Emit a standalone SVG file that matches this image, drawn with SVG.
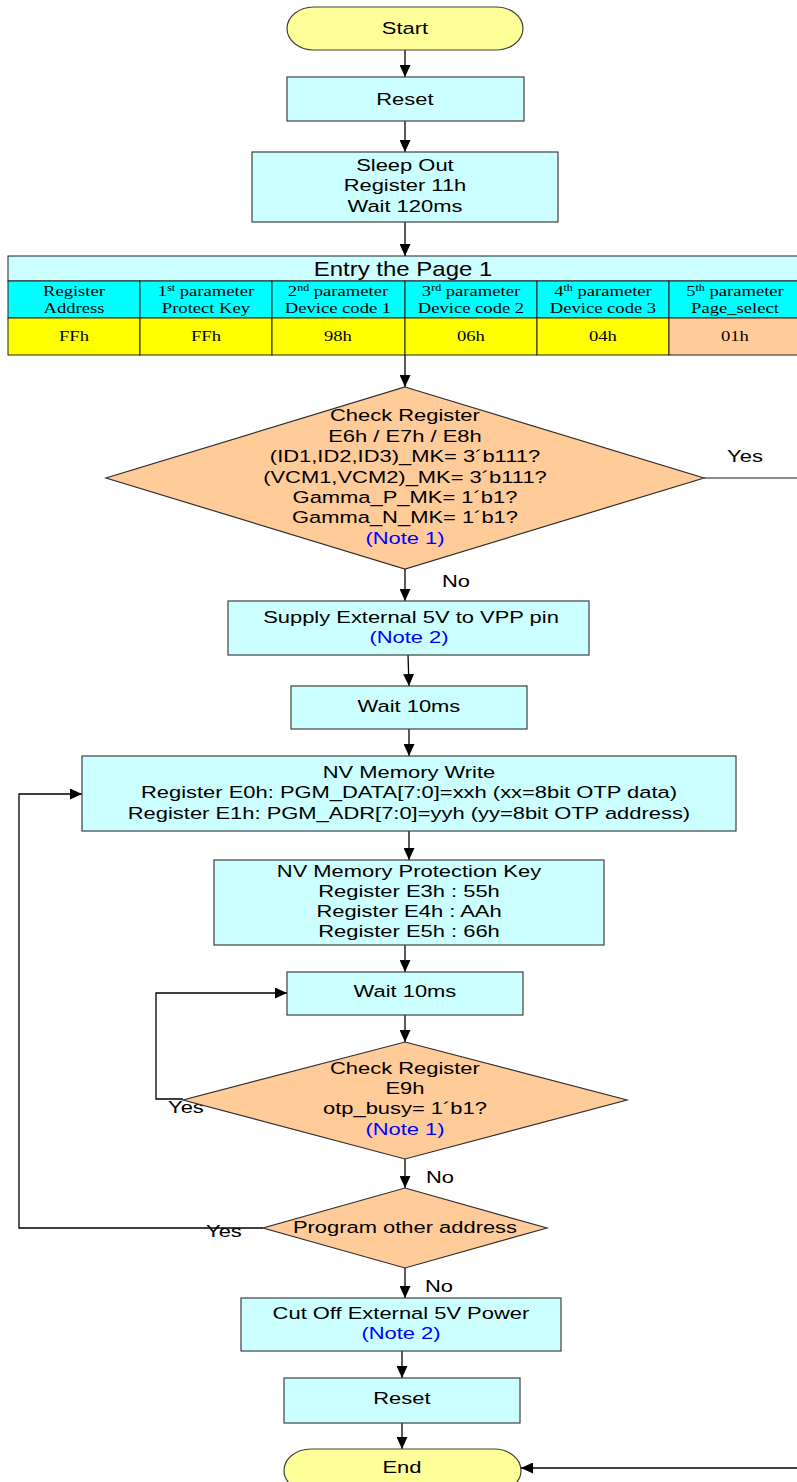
<svg xmlns="http://www.w3.org/2000/svg" width="797" height="1482" viewBox="0 0 797 1482">
<style>
  .box { fill: #CCFFFF; stroke: #404040; stroke-width: 1.2; }
  .term { fill: #FFFF99; stroke: #404040; stroke-width: 1.2; }
  .dia { fill: #FFCC99; stroke: #303030; stroke-width: 1.2; }
  .cell { stroke: #202020; stroke-width: 1; }
  .t { font-family: "Liberation Sans", Arial, sans-serif; font-size: 17px; fill: #000; text-anchor: middle;
       transform-box: fill-box; transform-origin: center; transform: scaleX(1.29); }
  .note { fill: #0000FF; }
  .tt { font-family: "Liberation Sans", Arial, sans-serif; font-size: 20px; fill: #000; text-anchor: middle;
       transform-box: fill-box; transform-origin: center; transform: scaleX(1.2); }
  .tm { font-family: "Liberation Serif", "Times New Roman", serif; font-size: 15.5px; fill: #000; text-anchor: middle;
       transform-box: fill-box; transform-origin: center; transform: scaleX(1.2); }
  .sup { font-size: 10px; }
  .c { fill: none; stroke: #000; stroke-width: 1.3; }
  .cg { fill: none; stroke: #666; stroke-width: 1.3; }
</style>
<defs>
  <marker id="ah" markerUnits="userSpaceOnUse" markerWidth="12" markerHeight="11" refX="12" refY="5.5" orient="auto">
    <path d="M0,0 L12,5.5 L0,11 z" fill="#000"/>
  </marker>
</defs>

<g id="connectors">
  <line class="c" x1="405" y1="50" x2="405" y2="77" marker-end="url(#ah)"/>
  <line class="c" x1="405" y1="121" x2="405" y2="152" marker-end="url(#ah)"/>
  <line class="c" x1="405" y1="222" x2="405" y2="256" marker-end="url(#ah)"/>
  <line class="c" x1="405" y1="355" x2="405" y2="387" marker-end="url(#ah)"/>
  <line class="c" x1="405" y1="569" x2="405" y2="601" marker-end="url(#ah)"/>
  <line class="c" x1="408" y1="655" x2="409" y2="686" marker-end="url(#ah)"/>
  <line class="c" x1="409" y1="729" x2="409" y2="756" marker-end="url(#ah)"/>
  <line class="c" x1="409" y1="831" x2="409" y2="860" marker-end="url(#ah)"/>
  <line class="c" x1="405" y1="945" x2="405" y2="972" marker-end="url(#ah)"/>
  <line class="c" x1="405" y1="1015" x2="405" y2="1042" marker-end="url(#ah)"/>
  <line class="c" x1="405" y1="1159" x2="405" y2="1188" marker-end="url(#ah)"/>
  <line class="c" x1="405" y1="1268" x2="405" y2="1298" marker-end="url(#ah)"/>
  <line class="c" x1="402" y1="1351" x2="402" y2="1378" marker-end="url(#ah)"/>
  <line class="c" x1="402" y1="1423" x2="402" y2="1449" marker-end="url(#ah)"/>
  <polyline class="c" points="183,1099 156,1099 156,993 287,993" marker-end="url(#ah)"/>
  <polyline class="c" points="263,1228 19,1228 19,794 82,794" marker-end="url(#ah)"/>
  <line class="cg" x1="704" y1="478" x2="797" y2="478"/>
  <line class="c" x1="797" y1="1468" x2="521" y2="1468" marker-end="url(#ah)"/>
  <text class="t" x="745" y="462">Yes</text>
  <text class="t" x="456" y="587">No</text>
  <text class="t" x="186" y="1113">Yes</text>
  <text class="t" x="440" y="1183">No</text>
  <text class="t" x="224" y="1237">Yes</text>
  <text class="t" x="439" y="1292">No</text>
</g>

<g id="start">
  <rect class="term" x="287" y="7" width="236" height="43" rx="27" ry="21.5"/>
  <text class="t" x="405" y="34">Start</text>
</g>

<g id="reset1">
  <rect class="box" x="287" y="77" width="237" height="44"/>
  <text class="t" x="405" y="105">Reset</text>
</g>

<g id="sleep-out">
  <rect class="box" x="252" y="152" width="306" height="70"/>
  <text class="t" x="405" y="171">Sleep Out</text>
  <text class="t" x="405" y="191.5">Register 11h</text>
  <text class="t" x="405" y="212">Wait 120ms</text>
</g>

<g id="page1-table">
  <rect class="cell" x="8" y="256" width="793" height="25" fill="#CCFFFF"/>
  <rect class="cell" x="8" y="281" width="132" height="37" fill="#00FFFF"/>
  <rect class="cell" x="140" y="281" width="132" height="37" fill="#00FFFF"/>
  <rect class="cell" x="272" y="281" width="133" height="37" fill="#00FFFF"/>
  <rect class="cell" x="405" y="281" width="132" height="37" fill="#00FFFF"/>
  <rect class="cell" x="537" y="281" width="132" height="37" fill="#00FFFF"/>
  <rect class="cell" x="669" y="281" width="132" height="37" fill="#00FFFF"/>
  <rect class="cell" x="8" y="318" width="132" height="37" fill="#FFFF00"/>
  <rect class="cell" x="140" y="318" width="132" height="37" fill="#FFFF00"/>
  <rect class="cell" x="272" y="318" width="133" height="37" fill="#FFFF00"/>
  <rect class="cell" x="405" y="318" width="132" height="37" fill="#FFFF00"/>
  <rect class="cell" x="537" y="318" width="132" height="37" fill="#FFFF00"/>
  <rect class="cell" x="669" y="318" width="132" height="37" fill="#FFCC99"/>
  <text class="tt" x="403" y="276">Entry the Page 1</text>
  <text class="tm" x="74" y="296">Register</text>
  <text class="tm" x="74" y="313">Address</text>
  <text class="tm" x="206" y="296">1<tspan class="sup" dy="-5">st</tspan><tspan dy="5"> parameter</tspan></text>
  <text class="tm" x="206" y="313">Protect Key</text>
  <text class="tm" x="338" y="296">2<tspan class="sup" dy="-5">nd</tspan><tspan dy="5"> parameter</tspan></text>
  <text class="tm" x="338" y="313">Device code 1</text>
  <text class="tm" x="471" y="296">3<tspan class="sup" dy="-5">rd</tspan><tspan dy="5"> parameter</tspan></text>
  <text class="tm" x="471" y="313">Device code 2</text>
  <text class="tm" x="603" y="296">4<tspan class="sup" dy="-5">th</tspan><tspan dy="5"> parameter</tspan></text>
  <text class="tm" x="603" y="313">Device code 3</text>
  <text class="tm" x="735" y="296">5<tspan class="sup" dy="-5">th</tspan><tspan dy="5"> parameter</tspan></text>
  <text class="tm" x="735" y="313">Page_select</text>
  <text class="tm" x="74" y="341">FFh</text>
  <text class="tm" x="206" y="341">FFh</text>
  <text class="tm" x="338" y="341">98h</text>
  <text class="tm" x="471" y="341">06h</text>
  <text class="tm" x="603" y="341">04h</text>
  <text class="tm" x="735" y="341">01h</text>
</g>

<g id="check-mk">
  <polygon class="dia" points="405,387 704,478 405,569 106,478"/>
  <text class="t" x="405" y="421.5">Check Register</text>
  <text class="t" x="405" y="442">E6h / E7h / E8h</text>
  <text class="t" x="405" y="462.3">(ID1,ID2,ID3)_MK= 3´b111?</text>
  <text class="t" x="405" y="482.7">(VCM1,VCM2)_MK= 3´b111?</text>
  <text class="t" x="405" y="503">Gamma_P_MK= 1´b1?</text>
  <text class="t" x="405" y="523.5">Gamma_N_MK= 1´b1?</text>
  <text class="t note" x="405" y="544">(Note 1)</text>
</g>

<g id="supply-5v">
  <rect class="box" x="228" y="601" width="361" height="54"/>
  <text class="t" x="411" y="623">Supply External 5V to VPP pin</text>
  <text class="t note" x="409" y="643">(Note 2)</text>
</g>

<g id="wait1">
  <rect class="box" x="291" y="686" width="236" height="43"/>
  <text class="t" x="409" y="712.5">Wait 10ms</text>
</g>

<g id="nv-write">
  <rect class="box" x="82" y="756" width="654" height="75"/>
  <text class="t" x="409" y="778.5">NV Memory Write</text>
  <text class="t" x="409" y="798.5">Register E0h: PGM_DATA[7:0]=xxh (xx=8bit OTP data)</text>
  <text class="t" x="409" y="819">Register  E1h: PGM_ADR[7:0]=yyh (yy=8bit OTP address)</text>
</g>

<g id="protection-key">
  <rect class="box" x="214" y="860" width="390" height="85"/>
  <text class="t" x="409" y="877">NV Memory Protection Key</text>
  <text class="t" x="409" y="897">Register E3h : 55h</text>
  <text class="t" x="409" y="917.5">Register E4h : AAh</text>
  <text class="t" x="409" y="937.5">Register E5h : 66h</text>
</g>

<g id="wait2">
  <rect class="box" x="287" y="972" width="236" height="43"/>
  <text class="t" x="405" y="997.5">Wait 10ms</text>
</g>

<g id="check-busy">
  <polygon class="dia" points="405,1042 627,1100 405,1159 183,1100"/>
  <text class="t" x="405" y="1074">Check Register</text>
  <text class="t" x="405" y="1094">E9h</text>
  <text class="t" x="405" y="1114">otp_busy= 1´b1?</text>
  <text class="t note" x="405" y="1135">(Note 1)</text>
</g>

<g id="program-other">
  <polygon class="dia" points="405,1188 547,1228 405,1268 263,1228"/>
  <text class="t" x="405" y="1233">Program other address</text>
</g>

<g id="cut-off">
  <rect class="box" x="241" y="1298" width="320" height="53"/>
  <text class="t" x="401" y="1319">Cut Off External 5V Power</text>
  <text class="t note" x="401" y="1339">(Note 2)</text>
</g>

<g id="reset2">
  <rect class="box" x="284" y="1378" width="236" height="45"/>
  <text class="t" x="402" y="1404">Reset</text>
</g>

<g id="end">
  <rect class="term" x="284" y="1449" width="237" height="43" rx="27" ry="21.5"/>
  <text class="t" x="402" y="1473">End</text>
</g>
</svg>
